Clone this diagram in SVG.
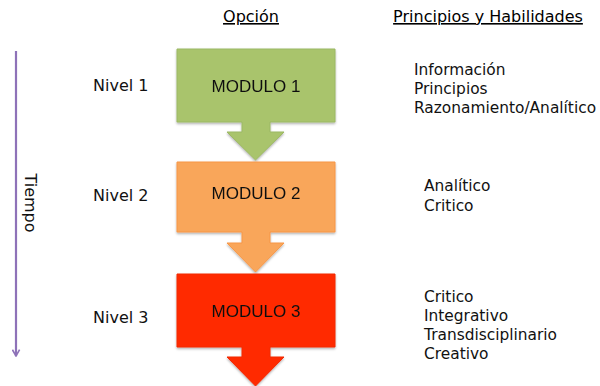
<svg xmlns="http://www.w3.org/2000/svg" width="600" height="386" viewBox="0 0 600 386">
<defs>
<style>
.hd{font-family:"DejaVu Sans","Noto Sans",sans-serif;font-size:16px;fill:#000;text-decoration:underline}
.lv{font-family:"DejaVu Sans","Noto Sans",sans-serif;font-size:16px;fill:#111}
.md{font-family:"Liberation Sans",Arial,sans-serif;font-size:17px;fill:#111;text-anchor:middle}
.sk{font-family:"DejaVu Sans","Noto Sans",sans-serif;font-size:15.4px;fill:#111}
</style>
<filter id="sh" x="-10%" y="-10%" width="120%" height="130%">
<feDropShadow dx="0" dy="1.5" stdDeviation="1.2" flood-color="#000" flood-opacity="0.3"/>
</filter>
<marker id="ah" viewBox="0 0 10 10" refX="9" refY="5" markerWidth="9" markerHeight="9" orient="auto" markerUnits="userSpaceOnUse">
<path d="M2,1 L9,5 L2,9" fill="none" stroke="#8E72B8" stroke-width="1.8"/>
</marker>
</defs>
<text class="hd" x="251" y="22" text-anchor="middle">Opción</text>
<text class="hd" x="488" y="22" text-anchor="middle">Principios y Habilidades</text>
<g id="timeline">
<line x1="16" y1="51" x2="16" y2="356" stroke="#8E72B8" stroke-width="2.2" marker-end="url(#ah)"/>
<text class="lv" transform="translate(25,203) rotate(90)" text-anchor="middle">Tiempo</text>
</g>
<g id="nivel1"><text class="lv" x="93" y="91">Nivel 1</text></g>
<g id="nivel2"><text class="lv" x="93" y="201">Nivel 2</text></g>
<g id="nivel3"><text class="lv" x="93" y="323">Nivel 3</text></g>
<g id="modulo1" filter="url(#sh)">
<path d="M177,49 H335 V122 H270 V132 H284 L255.5,160 L227,132 H242 V122 H177 Z" fill="#A9C46C" stroke="#9BB862" stroke-width="1"/>
<text class="md" x="256" y="92">MODULO 1</text>
</g>
<g id="modulo2" filter="url(#sh)">
<path d="M177,162 H335 V232 H270 V243 H284 L255.5,272 L227,243 H242 V232 H177 Z" fill="#F9A65A" stroke="#F79646" stroke-width="1"/>
<text class="md" x="256" y="199">MODULO 2</text>
</g>
<g id="modulo3" filter="url(#sh)">
<path d="M177,274 H335 V347 H270 V357 H284 L255.5,386 L227,357 H242 V347 H177 Z" fill="#FF2A00" stroke="#F22800" stroke-width="1"/>
<text class="md" x="256" y="317">MODULO 3</text>
</g>
<g id="skills1">
<text class="sk" x="414" y="75">Información</text>
<text class="sk" x="414" y="94">Principios</text>
<text class="sk" x="414" y="113">Razonamiento/Analítico</text>
</g>
<g id="skills2">
<text class="sk" x="424" y="191">Analítico</text>
<text class="sk" x="424" y="211">Critico</text>
</g>
<g id="skills3">
<text class="sk" x="424" y="302">Critico</text>
<text class="sk" x="424" y="321">Integrativo</text>
<text class="sk" x="424" y="340">Transdisciplinario</text>
<text class="sk" x="424" y="359">Creativo</text>
</g>
</svg>
